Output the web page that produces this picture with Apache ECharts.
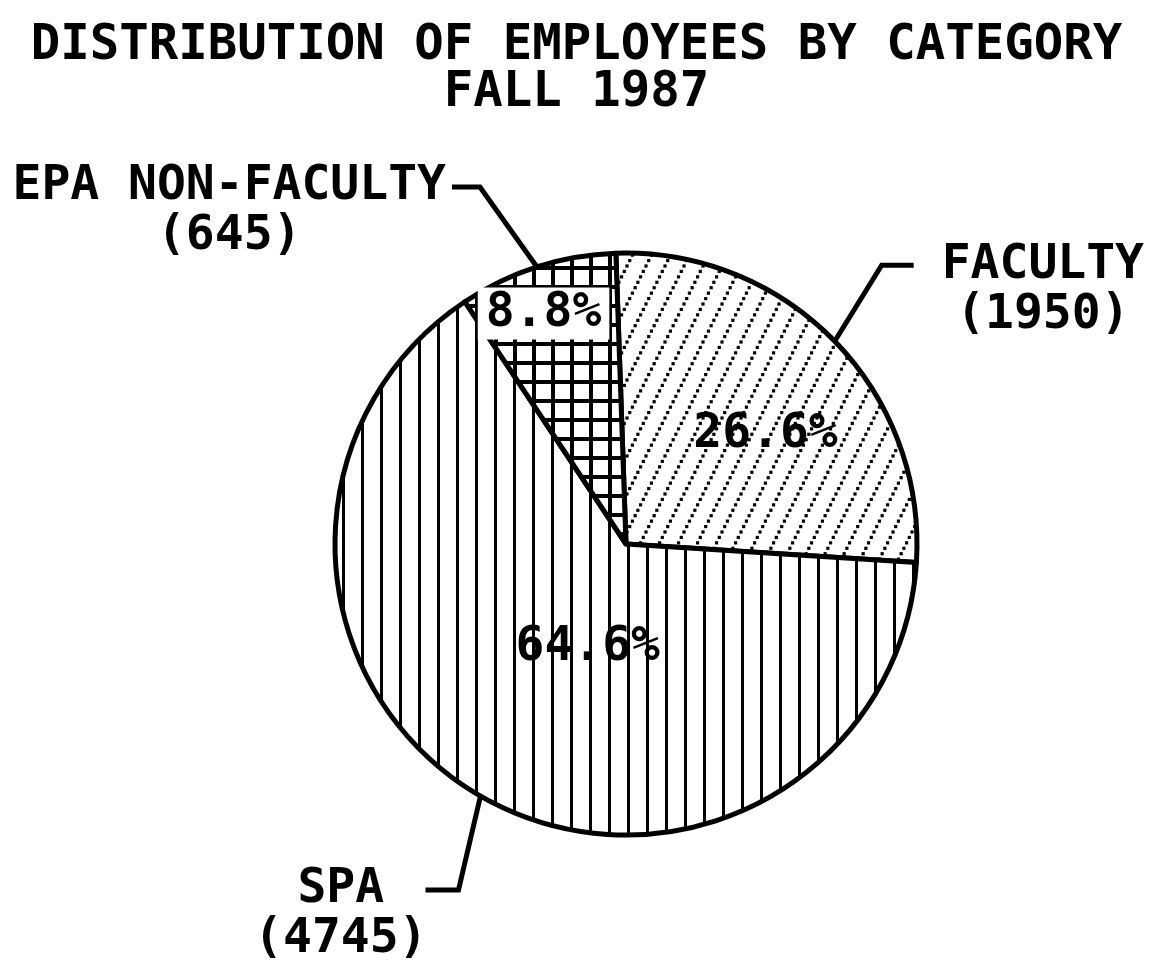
<!DOCTYPE html>
<html>
<head>
<meta charset="utf-8">
<script src="https://cdn.jsdelivr.net/npm/echarts@6/dist/echarts.min.js"></script>
<style>
html,body{margin:0;padding:0;background:#fff;}
#chart{width:1153px;height:961px;}
</style>
</head>
<body>
<div id="chart"></div>
<script>
// ---- data ----
const titleLines = ['DISTRIBUTION OF EMPLOYEES BY CATEGORY', 'FALL 1987'];
const categories = ['FACULTY', 'SPA', 'EPA NON-FACULTY'];
const employees = [1950, 4745, 645];

// ---- style / layout ----
const FONT = 'DejaVu Sans Mono';
const CENTER = [626, 544];
const RADIUS = 291;
const START_ANGLE = 92;
// leader line shapes: bend vector from slice edge, horizontal run, gap to text
const leaderShape = [
  { bend: [47, -76], run: 32, gap: 28 },
  { bend: [-22, 94], run: -33, gap: -2 },
  { bend: [-57, -80], run: -28, gap: 6 }
];
// shift of the percentage labels from their default inside spot
const pctShift = [[33, -6], [36, -25], [-37, -89]];

function makePattern(kind) {
  const c = document.createElement('canvas');
  const ctx = c.getContext('2d');
  if (kind === 'diag') {
    c.width = 19; c.height = 38;
    ctx.fillStyle = '#fff'; ctx.fillRect(0, 0, 19, 38);
    ctx.fillStyle = '#000';
    const n = 7;
    for (let i = 0; i < n; i++) {
      const t = i / n;
      const x = t * 19, y = 38 - t * 38;
      for (let ox = -1; ox <= 1; ox++) for (let oy = -1; oy <= 1; oy++) {
        ctx.fillRect(x + ox * 19 - 1.6, y + oy * 38 - 1.6, 3.2, 3.2);
      }
    }
  } else if (kind === 'vert') {
    c.width = 19; c.height = 19;
    ctx.fillStyle = '#fff'; ctx.fillRect(0, 0, 19, 19);
    ctx.fillStyle = '#000'; ctx.fillRect(0, 0, 3, 19);
  } else {
    c.width = 19; c.height = 19;
    ctx.fillStyle = '#fff'; ctx.fillRect(0, 0, 19, 19);
    ctx.fillStyle = '#000';
    ctx.fillRect(0, 0, 4, 19);
    ctx.fillRect(0, 0, 19, 4);
  }
  return c;
}
const patterns = [makePattern('diag'), makePattern('vert'), makePattern('grid')];

const chart = echarts.init(document.getElementById('chart'), null, { renderer: 'canvas' });

const option = {
  backgroundColor: '#fff',
  animation: false,
  title: {
    text: titleLines.join('\n'),
    left: 'center',
    top: 18,
    textStyle: { fontFamily: FONT, fontSize: 49, fontWeight: 'bold', lineHeight: 47, color: '#000' }
  },
  series: [
    {
      type: 'pie',
      center: CENTER,
      radius: RADIUS,
      startAngle: START_ANGLE,
      clockwise: true,
      silent: true,
      avoidLabelOverlap: false,
      percentPrecision: 1,
      data: categories.map((n, i) => ({
        name: n,
        value: employees[i],
        itemStyle: { color: { image: patterns[i], repeat: 'repeat' } }
      })),
      itemStyle: { borderColor: '#000', borderWidth: 5 },
      label: {
        show: true,
        position: 'outside',
        formatter: '{n|{b}}\n{n|({c})}',
        rich: {
          n: { align: 'center', fontFamily: FONT, fontSize: 48, fontWeight: 'bold', lineHeight: 50, color: '#000' }
        }
      },
      labelLine: { show: true, length: 20, length2: 20, lineStyle: { color: '#000', width: 5 } },
      labelLayout: function (p) {
        const L = leaderShape[p.dataIndex];
        const a = p.labelLinePoints[0];
        const b = [a[0] + L.bend[0], a[1] + L.bend[1]];
        const c = [b[0] + L.run, b[1]];
        const w = p.labelRect.width;
        const x = L.run > 0 ? c[0] + L.gap + w / 2 : c[0] - L.gap - w / 2;
        return {
          x: x,
          y: c[1] - 25,
          align: 'center',
          verticalAlign: 'top',
          labelLinePoints: [a, b, c]
        };
      }
    },
    {
      type: 'pie',
      center: CENTER,
      radius: RADIUS,
      startAngle: START_ANGLE,
      clockwise: true,
      silent: true,
      avoidLabelOverlap: false,
      percentPrecision: 1,
      data: categories.map((n, i) => ({
        name: n,
        value: employees[i],
        label: i === 2 ? { backgroundColor: '#fff', padding: [2, 8] } : {}
      })),
      itemStyle: { color: 'rgba(0,0,0,0)', borderWidth: 0 },
      label: {
        show: true,
        position: 'inside',
        rotate: 0,
        formatter: '{d}%',
        fontFamily: FONT,
        fontSize: 48,
        fontWeight: 'bold',
        color: '#000'
      },
      labelLine: { show: false },
      labelLayout: function (p) {
        const s = pctShift[p.dataIndex];
        return { dx: s[0], dy: s[1] };
      }
    }
  ]
};
chart.setOption(option);
</script>
</body>
</html>
